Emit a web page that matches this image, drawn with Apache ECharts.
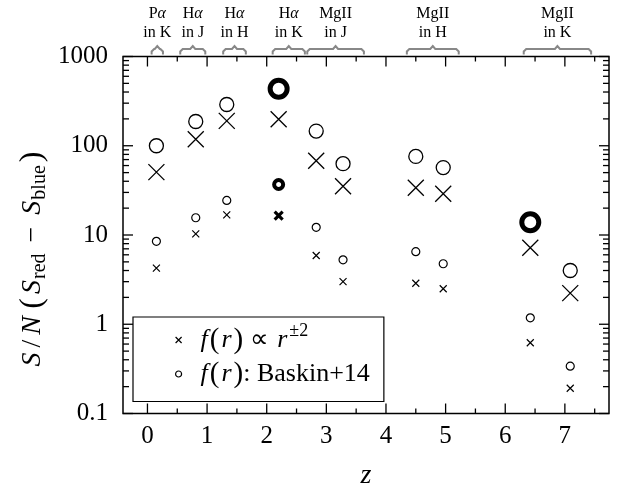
<!DOCTYPE html>
<html>
<head>
<meta charset="utf-8">
<script src="https://cdn.jsdelivr.net/npm/echarts@6/dist/echarts.min.js"></script>
<style>
  html, body { margin: 0; padding: 0; background: #fff; }
  #chart { width: 618px; height: 486px; }
</style>
</head>
<body>
<div id="chart"></div>
<script>
    // redshift of each line/band combination
    var zVals = [0.15, 0.81, 1.33, 2.20, 2.83, 3.28, 4.50, 4.96, 6.42, 7.09];
    // S/N values, big markers and small markers
    var bigCross = [50.6, 118, 190, 198, 68, 35.2, 33.8, 29, 7.2, 2.23];
    var bigCircle = [100, 187, 290, null, 146, 63, 76, 57, null, 4.0];
    var smallCross = [4.25, 10.3, 16.8, null, 5.9, 3.0, 2.88, 2.5, 0.62, 0.192];
    var smallCircle = [8.5, 15.6, 24.4, null, 12.2, 5.27, 6.5, 4.76, 1.18, 0.339];
    // highlighted (bold) points
    var boldBigCircle = [null, null, null, 435, null, null, null, null, 13.9, null];
    var boldSmallCircle = [null, null, null, 36.8, null, null, null, null, null, null];
    var boldSmallCross = [null, null, null, 16.5, null, null, null, null, null, null];

    // line coverage brackets along the top
    var bandLabels = ['P{g|α}\nin K', 'H{g|α}\nin J', 'H{g|α}\nin H', 'H{g|α}\nin K', 'MgII\nin J', 'MgII\nin H', 'MgII\nin K'];
    var bandStart = [0.07, 0.55, 1.27, 2.10, 2.68, 4.35, 6.31];
    var bandEnd = [0.26, 0.97, 1.65, 2.64, 3.63, 5.22, 7.44];

    var xLabels = [0, 1, 2, 3, 4, 5, 6, 7];
    var xTicks = [0, 0.5, 1, 1.5, 2, 2.5, 3, 3.5, 4, 4.5, 5, 5.5, 6, 6.5, 7, 7.5];
    var yDecades = [0.1, 1, 10, 100, 1000];
    var yMantissa = [2, 3, 4, 5, 6, 7, 8, 9];

    var X_MIN = -0.41, X_MAX = 7.74, Y_MIN = 0.1, Y_MAX = 1000;
    var SERIF = '"Liberation Serif", "Times New Roman", serif';
    var crossPath = 'path://M0,0L10,10M10,0L0,10';

    function pairs(arr) {
        var out = [];
        for (var i = 0; i < zVals.length; i++) {
            if (arr[i] != null) out.push([zVals[i], arr[i]]);
        }
        return out;
    }

    var yTicks = [];
    yDecades.forEach(function (d) {
        yTicks.push([d, 1]);
        if (d < Y_MAX) yMantissa.forEach(function (m) { yTicks.push([+(d * m).toPrecision(3), 0]); });
    });

    function marker(name, symbol, size, width, arr) {
        return {
            name: name,
            type: 'scatter',
            symbol: symbol,
            symbolSize: size,
            itemStyle: { color: 'transparent', borderColor: '#000', borderWidth: width, opacity: 1 },
            emphasis: { disabled: true },
            data: pairs(arr),
            z: 3
        };
    }

    var myChart = echarts.init(document.getElementById('chart'), null, { renderer: 'canvas' });
    var option = {
        animation: false,
        backgroundColor: '#fff',
        grid: {
            left: 123, right: 9, top: 56.5, bottom: 72.5,
            containLabel: false,
            outerBoundsMode: 'none',
            show: true, borderColor: '#000', borderWidth: 1.5, backgroundColor: 'transparent'
        },
        legend: {
            left: 133, top: 317,
            orient: 'vertical',
            padding: [5, 14, 13, 42],
            itemGap: 5,
            itemWidth: 6,
            itemHeight: 6,
            borderColor: '#000',
            borderWidth: 1.2,
            selectedMode: false,
            data: [
                { name: 'cross', icon: crossPath, itemStyle: { color: 'transparent', borderColor: '#000', borderWidth: 1.2 } },
                { name: 'circle', icon: 'circle', itemStyle: { color: 'transparent', borderColor: '#000', borderWidth: 1.2 } }
            ],
            formatter: function (name) {
                if (name === 'cross') return '{w| }{i|f}{p|(}{i|r}{p|)}{n| ∝ }{i|r}{s|±2}';
                return '{w| }{i|f}{p|(}{i|r}{p|)}{n|: Baskin+14}';
            },
            textStyle: {
                color: '#000',
                rich: {
                    w: { fontFamily: SERIF, fontSize: 26, lineHeight: 36, width: 12 },
                    n: { fontFamily: SERIF, fontSize: 26, lineHeight: 36, color: '#000' },
                    p: { fontFamily: SERIF, fontSize: 29, lineHeight: 36, color: '#000' },
                    i: { fontFamily: SERIF, fontStyle: 'italic', fontSize: 26, lineHeight: 36, color: '#000', padding: [0, 2, 0, 2] },
                    s: { fontFamily: SERIF, fontSize: 18, lineHeight: 26, verticalAlign: 'top', color: '#000' }
                }
            }
        },
        xAxis: {
            type: 'value',
            min: X_MIN, max: X_MAX,
            axisLine: { show: false },
            axisTick: { show: false },
            splitLine: { show: false },
            axisLabel: {
                customValues: xLabels,
                fontFamily: SERIF, fontSize: 25, color: '#000', margin: 10
            },
            name: 'z',
            nameLocation: 'middle',
            nameGap: 48,
            nameTextStyle: { fontFamily: SERIF, fontStyle: 'italic', fontSize: 28, color: '#000' }
        },
        yAxis: {
            type: 'log',
            logBase: 10,
            min: Y_MIN, max: Y_MAX,
            axisLine: { show: false },
            axisTick: { show: false },
            splitLine: { show: false },
            axisLabel: {
                fontFamily: SERIF, fontSize: 25, color: '#000', margin: 15,
                formatter: function (v) { return String(+(+v).toPrecision(3)); }
            }
        },
        graphic: [{
            type: 'text',
            x: 33, y: 258,
            rotation: Math.PI / 2,
            style: {
                text: '{i|S}{n|/}{i|N} {p|(}{i|S}{s|red}{n| − }{i|S}{s|blue}{p|)}',
                align: 'center',
                verticalAlign: 'middle',
                fill: '#000',
                rich: {
                    n: { fontFamily: SERIF, fontSize: 28, lineHeight: 34, fill: '#000', padding: [0, 4, 0, 4] },
                    i: { fontFamily: SERIF, fontStyle: 'italic', fontSize: 28, lineHeight: 34, fill: '#000', padding: [0, 1, 0, 1] },
                    p: { fontFamily: SERIF, fontSize: 32, lineHeight: 34, fill: '#000', padding: [0, 3, 0, 3] },
                    s: { fontFamily: SERIF, fontSize: 20, lineHeight: 20, verticalAlign: 'bottom', fill: '#000' }
                }
            }
        }],
        series: [
            marker('bigCross', crossPath, 16, 1.3, bigCross),
            marker('bigCircle', 'circle', 14, 1.3, bigCircle),
            marker('cross', crossPath, 7, 1.2, smallCross),
            marker('circle', 'circle', 8, 1.2, smallCircle),
            marker('boldBigCircle', 'circle', 17, 5, boldBigCircle),
            marker('boldSmallCircle', 'circle', 9, 4, boldSmallCircle),
            marker('boldSmallCross', crossPath, 8, 3.2, boldSmallCross),
            {
                // x ticks, bottom and top, drawn inward
                type: 'custom',
                silent: true,
                data: xTicks.map(function (v) { return [v, 1, v % 1 === 0 ? 1 : 0]; }),
                renderItem: function (params, api) {
                    var b = api.coord([api.value(0), Y_MIN]);
                    var t = api.coord([api.value(0), Y_MAX]);
                    var len = api.value(2) ? 10 : 5;
                    var st = { stroke: '#000', lineWidth: 1.3 };
                    return {
                        type: 'group',
                        children: [
                            { type: 'line', shape: { x1: b[0], y1: b[1], x2: b[0], y2: b[1] - len }, style: st },
                            { type: 'line', shape: { x1: t[0], y1: t[1], x2: t[0], y2: t[1] + len }, style: st }
                        ]
                    };
                }
            },
            {
                // y ticks, left and right, drawn inward
                type: 'custom',
                silent: true,
                data: yTicks.map(function (t) { return [0, t[0], t[1]]; }),
                renderItem: function (params, api) {
                    var l = api.coord([X_MIN, api.value(1)]);
                    var r = api.coord([X_MAX, api.value(1)]);
                    var len = api.value(2) ? 10 : 6;
                    var st = { stroke: '#000', lineWidth: 1.3 };
                    return {
                        type: 'group',
                        children: [
                            { type: 'line', shape: { x1: l[0], y1: l[1], x2: l[0] + len, y2: l[1] }, style: st },
                            { type: 'line', shape: { x1: r[0], y1: r[1], x2: r[0] - len, y2: r[1] }, style: st }
                        ]
                    };
                }
            },
            {
                // band brackets above the frame
                type: 'custom',
                silent: true,
                clip: false,
                data: bandStart.map(function (s, i) { return [s, Y_MAX, bandEnd[i], i]; }),
                renderItem: function (params, api) {
                    var a = api.coord([api.value(0), Y_MAX]);
                    var b = api.coord([api.value(2), Y_MAX]);
                    var top = a[1];
                    var cx = (a[0] + b[0]) / 2;
                    return {
                        type: 'group',
                        children: [
                            {
                                type: 'polyline',
                                shape: {
                                    points: [
                                        [a[0], top - 2], [a[0], top - 5], [a[0] + 2.5, top - 7.5],
                                        [cx - 2.5, top - 7.5], [cx, top - 10.5], [cx + 2.5, top - 7.5],
                                        [b[0] - 2.5, top - 7.5], [b[0], top - 5], [b[0], top - 2]
                                    ]
                                },
                                style: { stroke: '#888', lineWidth: 2, fill: null }
                            },
                            {
                                type: 'text',
                                x: cx, y: top - 33,
                                style: {
                                    text: bandLabels[api.value(3)],
                                    align: 'center',
                                    verticalAlign: 'middle',
                                    fontFamily: SERIF,
                                    fontSize: 16,
                                    lineHeight: 19,
                                    fill: '#000',
                                    rich: {
                                        g: { fontFamily: SERIF, fontStyle: 'italic', fontSize: 16, lineHeight: 19, fill: '#000' }
                                    }
                                }
                            }
                        ]
                    };
                }
            }
        ]
    };

    myChart.setOption(option);
    window.onresize = function () {
        myChart.resize();
    };
</script>
</body>
</html>
